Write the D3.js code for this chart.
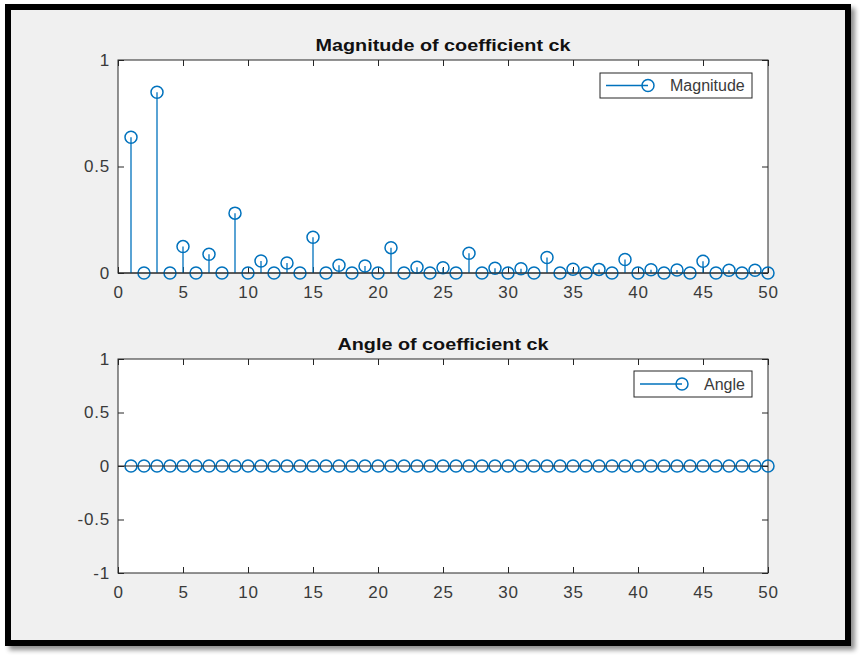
<!DOCTYPE html>
<html><head><meta charset="utf-8">
<script src="https://cdn.jsdelivr.net/npm/d3@7"></script>
<style>body{margin:0;background:#fff}svg{display:block}</style>
</head><body><svg id="c" width="864" height="658"></svg>
<script>
// ---- data ----
const kValues = [1,2,3,4,5,6,7,8,9,10,11,12,13,14,15,16,17,18,19,20,21,22,23,24,25,26,27,28,29,30,31,32,33,34,35,36,37,38,39,40,41,42,43,44,45,46,47,48,49,50];
const magnitude = [0.637,0,0.849,0,0.124,0,0.088,0,0.281,0,0.056,0,0.047,0,0.168,0,0.036,0,0.033,0,0.119,0,0.027,0,0.025,0,0.093,0,0.022,0,0.020,0,0.073,0,0.018,0,0.017,0,0.063,0,0.015,0,0.014,0,0.055,0,0.013,0,0.013,0];
const angle = [0,0,0,0,0,0,0,0,0,0,0,0,0,0,0,0,0,0,0,0,0,0,0,0,0,0,0,0,0,0,0,0,0,0,0,0,0,0,0,0,0,0,0,0,0,0,0,0,0,0];
const xTicks = [0,5,10,15,20,25,30,35,40,45,50];
const magYTicks = [0,0.5,1];
const angYTicks = [-1,-0.5,0,0.5,1];
const titles = ["Magnitude of coefficient ck","Angle of coefficient ck"];
const legendLabels = ["Magnitude","Angle"];

const BLUE = "#0072BD", AX = "#262626", TXT = "#3a3a3a";
const FONT = "'Liberation Sans', Arial, Helvetica, sans-serif";
const svg = d3.select("#c");

// drop shadow + frame
const defs = svg.append("defs");
const f = defs.append("filter").attr("id","sh").attr("x","-5%").attr("y","-5%").attr("width","115%").attr("height","115%");
f.append("feGaussianBlur").attr("in","SourceAlpha").attr("stdDeviation",2.5).attr("result","b");
f.append("feOffset").attr("in","b").attr("dx",4).attr("dy",4).attr("result","o");
f.append("feComponentTransfer").attr("in","o").attr("result","o2")
  .append("feFuncA").attr("type","linear").attr("slope",0.45);
const m = f.append("feMerge"); m.append("feMergeNode").attr("in","o2"); m.append("feMergeNode").attr("in","SourceGraphic");

svg.append("rect").attr("x",8).attr("y",7).attr("width",840).attr("height",636)
  .attr("fill","#f0f0f0").attr("stroke","#000").attr("stroke-width",6).attr("filter","url(#sh)");

const x = d3.scaleLinear().domain([0,50]).range([118,768]);

function panel(cfg){
  const y = d3.scaleLinear().domain(cfg.ydom).range([cfg.bottom, cfg.top]);
  const g = svg.append("g");
  g.append("rect").attr("x",x.range()[0]).attr("y",cfg.top).attr("width",x.range()[1]-x.range()[0])
    .attr("height",cfg.bottom-cfg.top).attr("fill","#fff");
  const fmt = d => String(d);
  const ax = [
    g.append("g").attr("transform",`translate(0,${cfg.bottom})`).call(d3.axisBottom(x).tickValues(xTicks).tickSizeInner(-6).tickSizeOuter(0).tickPadding(13).tickFormat(fmt)),
    g.append("g").attr("transform",`translate(0,${cfg.top})`).call(d3.axisTop(x).tickValues(xTicks).tickSizeInner(-6).tickSizeOuter(0).tickFormat("")),
    g.append("g").attr("transform",`translate(${x.range()[0]},0)`).call(d3.axisLeft(y).tickValues(cfg.yticks).tickSizeInner(-6).tickSizeOuter(0).tickPadding(8).tickFormat(fmt)),
    g.append("g").attr("transform",`translate(${x.range()[1]},0)`).call(d3.axisRight(y).tickValues(cfg.yticks).tickSizeInner(-6).tickSizeOuter(0).tickFormat(""))
  ];
  ax.forEach(a=>{
    a.select(".domain").remove();
    a.selectAll("line").attr("stroke",AX).attr("stroke-width",1);
    a.selectAll("text").attr("fill",TXT).style("font-family",FONT).style("font-size","17px").style("letter-spacing","0.8px");
  });
  g.append("rect").attr("x",x.range()[0]).attr("y",cfg.top).attr("width",x.range()[1]-x.range()[0])
    .attr("height",cfg.bottom-cfg.top).attr("fill","none").attr("stroke",AX).attr("stroke-width",1);
  // stems
  g.selectAll(".stem").data(cfg.data).join("line")
    .attr("x1",(d,i)=>x(kValues[i])).attr("x2",(d,i)=>x(kValues[i]))
    .attr("y1",y(0)).attr("y2",d=>y(d)).attr("stroke",BLUE).attr("stroke-width",1.3);
  g.selectAll(".mk").data(cfg.data).join("circle")
    .attr("cx",(d,i)=>x(kValues[i])).attr("cy",d=>y(d)).attr("r",6)
    .attr("fill","none").attr("stroke",BLUE).attr("stroke-width",1.5);
  // baseline
  g.append("line").attr("x1",x.range()[0]).attr("x2",x.range()[1]).attr("y1",y(0)).attr("y2",y(0))
    .attr("stroke",AX).attr("stroke-width",1);
  // title
  g.append("text").attr("x",(x.range()[0]+x.range()[1])/2).attr("y",cfg.top-9).attr("text-anchor","middle")
    .attr("fill","#111").style("font-family",FONT).style("font-size","16.5px").style("font-weight","bold")
    .attr("textLength",cfg.titleLen).attr("lengthAdjust","spacingAndGlyphs").text(cfg.title);
  // legend
  const L = cfg.legend;
  g.append("rect").attr("x",L.x).attr("y",L.y).attr("width",L.w).attr("height",L.h)
    .attr("fill","#fff").attr("stroke",AX).attr("stroke-width",1);
  const cy = L.y + L.h/2;
  g.append("line").attr("x1",L.x+6).attr("x2",L.x+48).attr("y1",cy).attr("y2",cy).attr("stroke",BLUE).attr("stroke-width",1.4);
  g.append("circle").attr("cx",L.x+48).attr("cy",cy).attr("r",6).attr("fill","none").attr("stroke",BLUE).attr("stroke-width",1.5);
  g.append("text").attr("x",L.x+70).attr("y",cy+5.5).attr("fill",TXT).style("font-family",FONT).style("font-size","16px").text(cfg.label);
}

panel({ydom:[0,1], top:60, bottom:273, yticks:magYTicks, data:magnitude, title:titles[0], titleLen:255,
  label:legendLabels[0], legend:{x:600,y:73,w:152,h:25}});
panel({ydom:[-1,1], top:359, bottom:573, yticks:angYTicks, data:angle, title:titles[1], titleLen:211,
  label:legendLabels[1], legend:{x:634,y:371,w:118,h:26}});
</script></body></html>
